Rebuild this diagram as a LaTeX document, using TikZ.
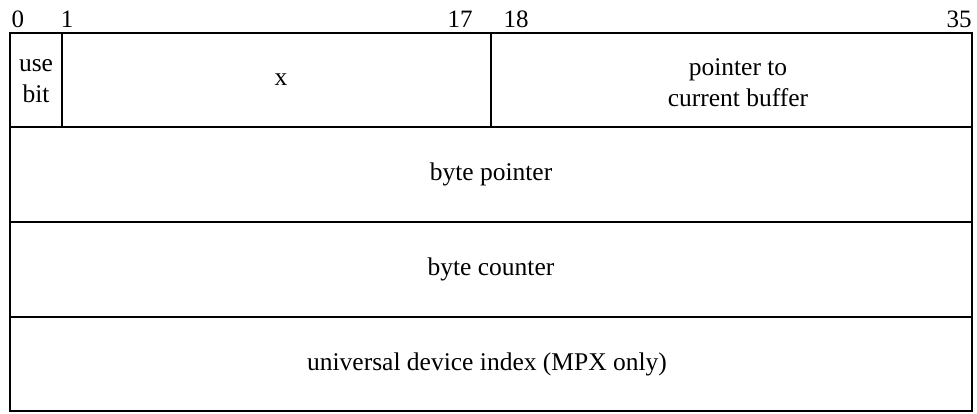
\documentclass[tikz,border=0pt]{standalone}
\usepackage{fontspec}
\setmainfont{Liberation Serif}
\begin{document}
\begin{tikzpicture}[x=1pt,y=-1pt,
  cellbox/.style={draw=black,line width=1.8pt},
  celltext/.style={font=\fontsize{25.5}{31}\selectfont,align=center,inner sep=0pt},
  bitnum/.style={font=\fontsize{25}{28}\selectfont,anchor=base,inner sep=0pt}]
\useasboundingbox (0,0) rectangle (977,413);
\coordinate (tl) at (10,33);
\coordinate (br) at (972,411);
\draw[cellbox] (tl) rectangle (br);
\coordinate (r1l) at (10,127); \coordinate (r1r) at (972,127);
\coordinate (r2l) at (10,222); \coordinate (r2r) at (972,222);
\coordinate (r3l) at (10,317); \coordinate (r3r) at (972,317);
\draw[cellbox] (r1l) -- (r1r);
\draw[cellbox] (r2l) -- (r2r);
\draw[cellbox] (r3l) -- (r3r);
\coordinate (v1t) at (62,33); \coordinate (v1b) at (62,127);
\coordinate (v2t) at (491,33); \coordinate (v2b) at (491,127);
\draw[cellbox] (v1t) -- (v1b);
\draw[cellbox] (v2t) -- (v2b);
\node[bitnum] (n0) at (18,27) {0};
\node[bitnum] (n1) at (67,27) {1};
\node[bitnum] (n17) at (460,27) {17};
\node[bitnum] (n18) at (516,27) {18};
\node[bitnum] (n35) at (959,27) {35};
\node[celltext] (use) at (36,81) {use\\bit};
\node[celltext] (x) at (281,80) {x};
\node[celltext] (ptr) at (738,83) {pointer to\\current buffer};
\node[celltext] (bp) at (491,174) {byte pointer};
\node[celltext] (bc) at (491,269) {byte counter};
\node[celltext] (udi) at (487,364) {universal device index (MPX only)};
\end{tikzpicture}
\end{document}
